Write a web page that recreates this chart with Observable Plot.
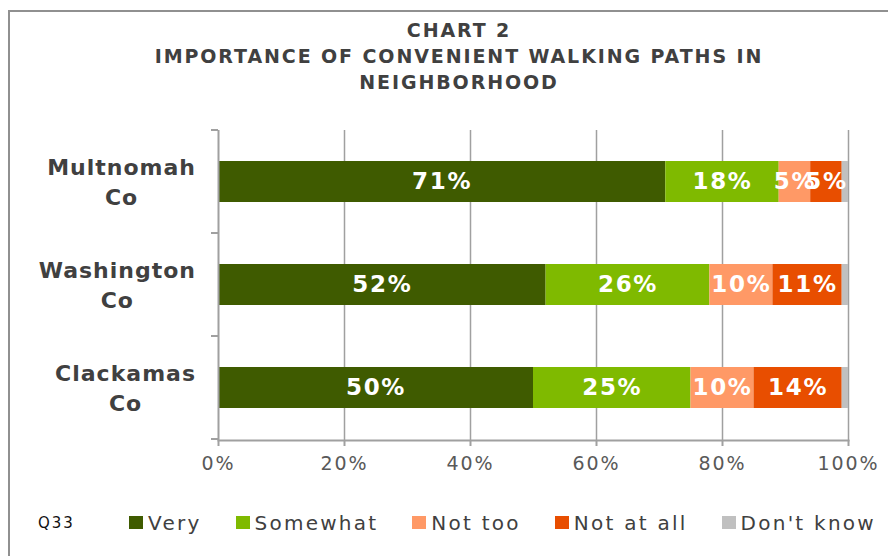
<!DOCTYPE html>
<html><head><meta charset="utf-8">
<script src="https://cdn.jsdelivr.net/npm/d3@7"></script>
<script src="https://cdn.jsdelivr.net/npm/@observablehq/plot@0.6"></script>
<style>
html,body{margin:0;padding:0;background:#fff;}
#wrap{position:relative;width:888px;height:556px;overflow:hidden;background:#fff;font-family:"DejaVu Sans",Verdana,sans-serif;}
#border{position:absolute;left:8px;top:10px;width:1000px;height:1000px;border-top:2px solid #909090;border-left:2px solid #909090;}
#title{position:absolute;left:0;width:918px;top:17px;text-align:center;font-weight:bold;font-size:19px;letter-spacing:1.9px;color:#404040;line-height:26px;white-space:nowrap;}
#plot{position:absolute;left:0;top:0;}
#legend{position:absolute;left:38px;top:509px;height:27px;display:flex;align-items:center;color:#404040;white-space:nowrap;}
#legend .q{width:91px;font-size:15px;letter-spacing:2px;color:#111;flex:none;}
#legend .item{display:flex;align-items:center;margin-right:34px;font-size:20px;letter-spacing:2.25px;flex:none;}
#legend .sw{width:14px;height:13px;margin-right:5px;flex:none;}
</style>
</head><body>
<div id="wrap">
  <div id="border"></div>
  <div id="title"></div>
  <div id="plot"></div>
  <div id="legend"></div>
</div>
<script>
const titleLines = ["CHART 2", "IMPORTANCE OF CONVENIENT WALKING PATHS IN", "NEIGHBORHOOD"];
const categories = ["Multnomah Co", "Washington Co", "Clackamas Co"];
const labelLines = [["Multnomah", "Co"], ["Washington", "Co"], ["Clackamas", "Co"]];
const series = ["Very", "Somewhat", "Not too", "Not at all", "Don't know"];
const very = [71, 52, 50];
const somewhat = [18, 26, 25];
const notToo = [5, 10, 10];
const notAtAll = [5, 11, 14];
const dontKnow = [1, 1, 1];
const colors = ["#3F5B00", "#7FBA00", "#FF9966", "#E84E00", "#C0C0C0"];
const xTicks = [0, 20, 40, 60, 80, 100];
const questionLabel = "Q33";

const seriesValues = [very, somewhat, notToo, notAtAll, dontKnow];
const rows = [];
categories.forEach((c, i) => {
  series.forEach((s, j) => rows.push({county: c, series: s, value: seriesValues[j][i]}));
});
const labelled = rows.filter(d => d.series !== "Don't know");

document.getElementById("title").innerHTML = titleLines.map(t => `<div>${t}</div>`).join("");

const chart = Plot.plot({
  width: 888,
  height: 490,
  marginLeft: 218,
  marginRight: 40,
  marginTop: 130,
  marginBottom: 50,
  style: {background: "none", fontFamily: "'DejaVu Sans', Verdana, sans-serif", color: "#595959", fontSize: "19px", overflow: "visible"},
  x: {domain: [0, 100], ticks: xTicks, tickFormat: d => d + "%", tickSize: 6, tickPadding: 10, label: null, line: true},
  y: {domain: categories, paddingInner: 0.6, paddingOuter: 0.3, axis: null},
  color: {domain: series, range: colors},
  marks: [
    Plot.ruleX(xTicks.filter(d => d > 0), {stroke: "#a0a0a0", strokeWidth: 1.5}),
    Plot.barX(rows, Plot.stackX({x: "value", y: "county", fill: "series", order: null})),
    Plot.text(labelled, Plot.stackX({x: "value", y: "county", text: d => d.value + "%", fill: "white", fontWeight: "bold", fontSize: 23})),
    Plot.ruleX([0], {stroke: "#a0a0a0", strokeWidth: 2})
  ]
});
document.getElementById("plot").appendChild(chart);

const svg = d3.select(chart);
svg.selectAll('[aria-label^="x-axis"] path, [aria-label^="x-axis"] line').attr("stroke", "#a0a0a0").attr("stroke-width", 2).attr("stroke-opacity", 1);
svg.selectAll('[aria-label^="x-axis"] text').attr("fill", "#595959").style("letter-spacing", "1.9px").attr("font-size", 19);
svg.selectAll('[aria-label^="frame"]').attr("stroke", "#a0a0a0").attr("stroke-width", 2);
svg.selectAll('g[aria-label="text"] text').style("letter-spacing", "1.7px");

const ys = chart.scale("y");
const xs = chart.scale("x");
const left = xs.range[0];
const g = svg.append("g");
const firstCenter = ys.apply(categories[0]) + ys.bandwidth / 2;
for (let i = 0; i <= categories.length; i++) {
  const y = firstCenter - ys.step / 2 + i * ys.step;
  g.append("line").attr("x1", left - 7).attr("x2", left).attr("y1", y).attr("y2", y)
    .attr("stroke", "#a0a0a0").attr("stroke-width", 2);
}
const lab = g.append("g").attr("font-weight", "bold").attr("font-size", 22).attr("fill", "#404040")
  .style("letter-spacing", "1px").attr("font-family", "'DejaVu Sans', Verdana, sans-serif");
categories.forEach((c, i) => {
  const cy = ys.apply(c) + ys.bandwidth / 2;
  const t = lab.append("text").attr("text-anchor", "middle");
  labelLines[i].forEach((ln, j) => t.append("tspan").attr("x", 0).attr("y", cy - 7 + j * 30).text(ln));
  const w = t.node().getBBox().width;
  t.selectAll("tspan").attr("x", left - 22 - w / 2);
});

const legend = document.getElementById("legend");
legend.innerHTML = `<span class="q">${questionLabel}</span>` +
  series.map((s, i) => `<span class="item"><span class="sw" style="background:${colors[i]}"></span>${s}</span>`).join("");
</script>
</body></html>
